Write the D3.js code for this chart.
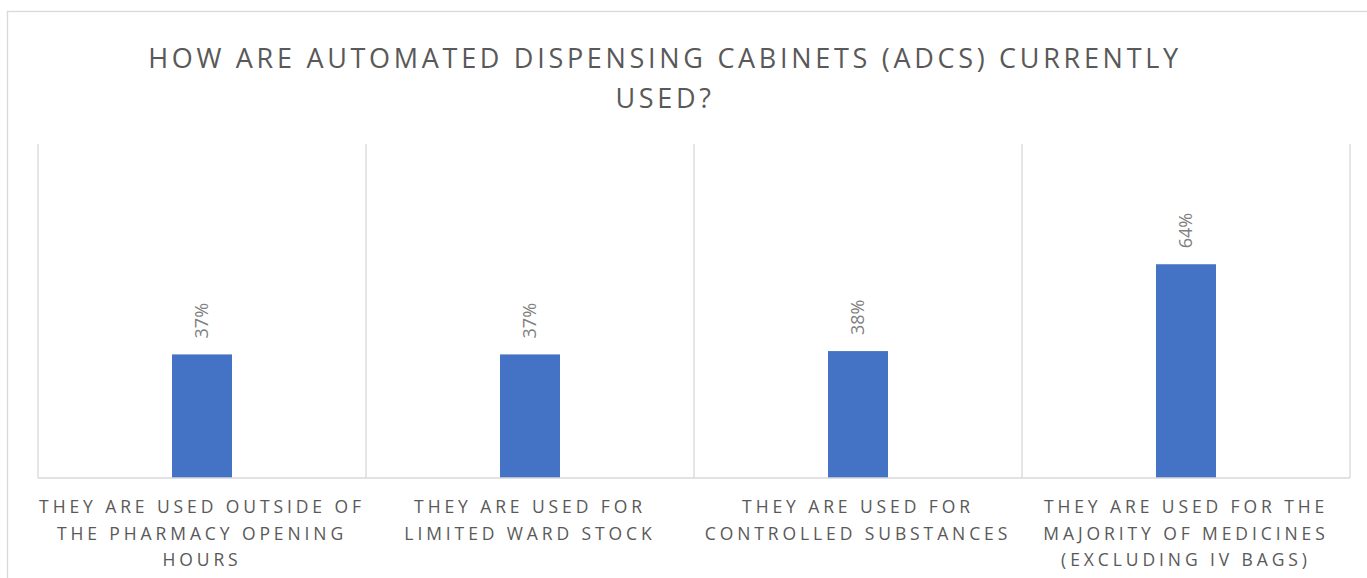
<!DOCTYPE html>
<html>
<head>
<meta charset="utf-8">
<script src="https://cdn.jsdelivr.net/npm/d3@7"></script>
<style>
  html, body { margin: 0; padding: 0; background: #fff; }
  svg { display: block; }
  text { font-family: "Open Sans", "Noto Sans", sans-serif; }
</style>
</head>
<body>
<svg id="chart" width="1367" height="578"></svg>
<script>
// Survey answers and their shares (%)
const categories = [
  "They are used outside of the pharmacy opening hours",
  "They are used for limited ward stock",
  "They are used for controlled substances",
  "They are used for the majority of medicines (excluding IV bags)"
];
const categoryLines = [
  ["THEY ARE USED OUTSIDE OF", "THE PHARMACY OPENING", "HOURS"],
  ["THEY ARE USED FOR", "LIMITED WARD STOCK"],
  ["THEY ARE USED FOR", "CONTROLLED SUBSTANCES"],
  ["THEY ARE USED FOR THE", "MAJORITY OF MEDICINES", "(EXCLUDING IV BAGS)"]
];
const values = [37, 37, 38, 64];
const titleLines = ["HOW ARE AUTOMATED DISPENSING CABINETS (ADCS) CURRENTLY", "USED?"];

const svg = d3.select("#chart");
const W = 1367, H = 578;
const plot = { left: 38, right: 1350, top: 144, bottom: 478 };

// outer chart frame
svg.append("rect")
  .attr("x", 7.5).attr("y", 11.5)
  .attr("width", W + 20).attr("height", H + 20)
  .attr("fill", "#fff").attr("stroke", "#d9d9d9").attr("stroke-width", 1.3);

// title
svg.append("g").selectAll("text")
  .data(titleLines).join("text")
  .attr("x", 665)
  .attr("y", (d, i) => 68 + i * 40)
  .attr("text-anchor", "middle")
  .attr("fill", "#595959")
  .attr("font-size", 27)
  .attr("letter-spacing", "3.7px")
  .text(d => d);

const barPad = 1 - 60 / 328;
const x = d3.scaleBand()
  .domain(categories)
  .range([plot.left, plot.right])
  .paddingInner(barPad)
  .paddingOuter(barPad / 2);

const y = d3.scaleLinear().domain([0, 100]).range([plot.bottom, plot.top]);

// vertical category separators
const edge = (x.step() - x.bandwidth()) / 2;
const seps = categories.map(c => x(c) - edge).concat([x(categories[categories.length - 1]) + x.bandwidth() + edge]);
svg.append("g").selectAll("line")
  .data(seps).join("line")
  .attr("x1", d => d).attr("x2", d => d)
  .attr("y1", plot.top).attr("y2", plot.bottom)
  .attr("stroke", "#d9d9d9").attr("stroke-width", 1.3);

// bars
svg.append("g").selectAll("rect")
  .data(values).join("rect")
  .attr("x", (d, i) => x(categories[i]))
  .attr("width", x.bandwidth())
  .attr("y", d => y(d))
  .attr("height", d => y(0) - y(d))
  .attr("fill", "#4472c4");

// baseline
svg.append("line")
  .attr("x1", plot.left).attr("x2", plot.right)
  .attr("y1", plot.bottom).attr("y2", plot.bottom)
  .attr("stroke", "#d9d9d9").attr("stroke-width", 1.3);

// rotated value labels
svg.append("g").selectAll("text")
  .data(values).join("text")
  .attr("transform", (d, i) => `translate(${x(categories[i]) + x.bandwidth() / 2 + 6},${y(d) - 16}) rotate(-90)`)
  .attr("fill", "#808080")
  .attr("font-size", 18)
  .text(d => d + "%");

// category labels
const lab = svg.append("g").selectAll("text")
  .data(categories).join("text")
  .attr("text-anchor", "middle")
  .attr("fill", "#595959")
  .attr("font-size", 17.5)
  .attr("letter-spacing", "3.9px");
lab.each(function(c, i) {
  d3.select(this).selectAll("tspan")
    .data(categoryLines[i]).join("tspan")
    .attr("x", x(c) + x.bandwidth() / 2)
    .attr("y", (d, j) => 513 + j * 26.5)
    .text(d => d);
});
</script>
</body>
</html>
